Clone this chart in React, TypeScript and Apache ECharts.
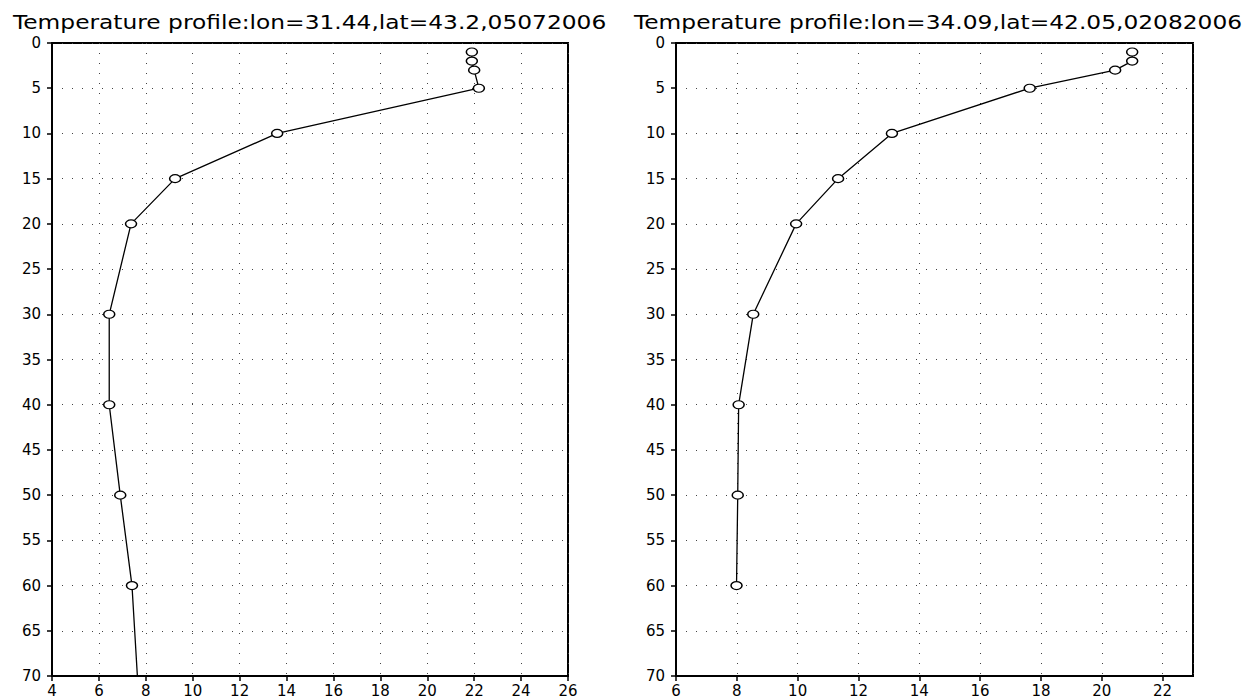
import React, { useEffect, useRef } from "react";
import * as echarts from "echarts";

const titleLeft = "Temperature profile:lon=31.44,lat=43.2,05072006";
const titleRight = "Temperature profile:lon=34.09,lat=42.05,02082006";

// Left profile (depth m, temperature °C)
const leftDepth = [1, 2, 3, 5, 10, 15, 20, 30, 40, 50, 60, 80];
const leftTemp = [21.9, 21.9, 22.0, 22.2, 13.6, 9.25, 7.37, 6.44, 6.44, 6.91, 7.41, 7.87];

// Right profile
const rightDepth = [1, 2, 3, 5, 10, 15, 20, 30, 40, 50, 60];
const rightTemp = [21.0, 21.0, 20.44, 17.63, 13.1, 11.33, 9.95, 8.54, 8.06, 8.03, 7.99];

const depthTicksMax = 70;

const ellipse = "path://M-1,0a1,1 0 1,0 2,0a1,1 0 1,0 -2,0z";

export default function App() {
  const ref = useRef<HTMLDivElement>(null);
  useEffect(() => {
    if (!ref.current) return;
    const chart = echarts.init(ref.current, null, { renderer: "svg" });
    const font = "DejaVu Sans";
    const split = {
      show: true,
      lineStyle: { color: "#444", type: [1, 9] as any, width: 1 },
    };
    const xAxisBase = (min: number, max: number, idx: number, showMax: boolean) => ({
      type: "value",
      gridIndex: idx,
      min,
      max,
      interval: 2,
      position: "bottom",
      axisLine: { show: true, onZero: false, lineStyle: { color: "#000", width: 2 } },
      axisTick: { show: true, length: 5, lineStyle: { color: "#000", width: 1.5 } },
      axisLabel: {
        color: "#000",
        fontSize: 15,
        fontFamily: font,
        margin: 7,
        showMaxLabel: showMax,
        showMinLabel: true,
      },
      splitLine: split,
    });
    const yAxisBase = (idx: number) => ({
      type: "value",
      gridIndex: idx,
      inverse: true,
      min: 0,
      max: depthTicksMax,
      interval: 5,
      axisLine: { show: true, onZero: false, lineStyle: { color: "#000", width: 2 } },
      axisTick: { show: true, length: 5, lineStyle: { color: "#000", width: 1.5 } },
      axisLabel: { color: "#000", fontSize: 15, fontFamily: font, margin: 11 },
      splitLine: split,
    });
    const seriesBase = (idx: number, depth: number[], temp: number[]) => ({
      type: "line",
      xAxisIndex: idx,
      yAxisIndex: idx,
      data: depth.map((d, i) => [temp[i], d]),
      symbol: ellipse,
      symbolSize: [11, 8],
      showAllSymbol: true,
      clip: true,
      lineStyle: { color: "#000", width: 1.3 },
      itemStyle: { color: "#fff", borderColor: "#000", borderWidth: 1.3 },
      z: 5,
    });
    const titleText = (text: string, x: number) => ({
      type: "text",
      x,
      y: 12,
      scaleX: 1.166,
      style: {
        text,
        fill: "#000",
        font: `20px "${font}"`,
        textVerticalAlign: "top",
      },
    });
    chart.setOption({
      animation: false,
      backgroundColor: "#fff",
      graphic: [titleText(titleLeft, 13), titleText(titleRight, 634)],
      grid: [
        { left: 52, top: 43, width: 516, height: 636, show: true, borderColor: "#000", borderWidth: 2, backgroundColor: "transparent" },
        { left: 676, top: 43, width: 517, height: 636, show: true, borderColor: "#000", borderWidth: 2, backgroundColor: "transparent" },
      ],
      xAxis: [xAxisBase(4, 26, 0, true), xAxisBase(6, 23, 1, false)],
      yAxis: [yAxisBase(0), yAxisBase(1)],
      series: [seriesBase(0, leftDepth, leftTemp), seriesBase(1, rightDepth, rightTemp)],
    });
    return () => chart.dispose();
  }, []);
  return (
    <div
      ref={ref}
      style={{ position: "fixed", left: 0, top: 0, width: 1243, height: 698, background: "#fff" }}
    />
  );
}
